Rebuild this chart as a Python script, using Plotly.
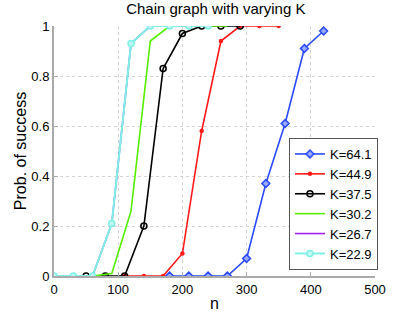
import plotly.graph_objects as go

n_blue = [180, 210, 240, 270, 300, 330, 360, 390, 420]
p_blue = [0, 0, 0, 0, 0.07, 0.37, 0.61, 0.91, 0.98]
n_red = [110, 140, 170, 200, 230, 260, 290, 320, 350]
p_red = [0, 0, 0, 0.09, 0.58, 0.94, 1, 1, 1]
n_black = [50, 80, 110, 140, 170, 200, 230, 260, 290]
p_black = [0, 0, 0, 0.2, 0.83, 0.97, 1, 1, 1]
n_green = [60, 90, 120, 150, 180, 210, 240, 270]
p_green = [0, 0.01, 0.26, 0.94, 1, 1, 1, 1]
n_purple = [0, 30, 60, 90, 120, 150, 180, 210, 240]
p_purple = [0, 0, 0, 0.21, 0.93, 1, 1, 1, 1]
n_cyan = [0, 30, 60, 90, 120, 150, 180, 210, 240]
p_cyan = [0, 0, 0, 0.21, 0.93, 1, 1, 1, 1]
labels = ["K=64.1", "K=44.9", "K=37.5", "K=30.2", "K=26.7", "K=22.9"]

x_ticks = [0, 100, 200, 300, 400, 500]
y_ticks = [0, 0.2, 0.4, 0.6, 0.8, 1]

fig = go.Figure()
fig.add_trace(go.Scatter(x=n_blue, y=p_blue, name=labels[0], mode="lines+markers",
                         line=dict(color="#2a4bff", width=1.6),
                         marker=dict(symbol="diamond", size=6, color="#9aaaff",
                                     line=dict(color="#2a4bff", width=1.5))))
fig.add_trace(go.Scatter(x=n_red, y=p_red, name=labels[1], mode="lines+markers",
                         line=dict(color="#ff1a1a", width=1.6),
                         marker=dict(symbol="circle", size=4.5, color="#ff1a1a")))
fig.add_trace(go.Scatter(x=n_black, y=p_black, name=labels[2], mode="lines+markers",
                         line=dict(color="#000000", width=1.6),
                         marker=dict(symbol="circle-open", size=6,
                                     line=dict(color="#000000", width=1.6))))
fig.add_trace(go.Scatter(x=n_green, y=p_green, name=labels[3], mode="lines",
                         line=dict(color="#55ee00", width=1.6)))
fig.add_trace(go.Scatter(x=n_purple, y=p_purple, name=labels[4], mode="lines",
                         line=dict(color="#a020f0", width=1.6)))
fig.add_trace(go.Scatter(x=n_cyan, y=p_cyan, name=labels[5], mode="lines+markers",
                         line=dict(color="#7ff0e6", width=2),
                         marker=dict(symbol="circle", size=6, color="#c0f7f2",
                                     line=dict(color="#7ff0e6", width=1.5))))

font = "Liberation Sans, Arial, sans-serif"
fig.update_layout(
    width=415, height=312,
    margin=dict(l=54, r=40, t=26, b=36),
    paper_bgcolor="white", plot_bgcolor="white",
    font=dict(family=font, size=13, color="black"),
    title=dict(text="Chain graph with varying K", x=0.52, xanchor="center",
               y=0.99, yanchor="top", font=dict(size=15)),
    showlegend=True,
    legend=dict(x=0.732, y=0.024, xanchor="left", yanchor="bottom",
                bgcolor="white", bordercolor="#555555", borderwidth=1,
                font=dict(size=13), tracegroupgap=0, itemwidth=30),
    xaxis=dict(range=[0, 500], tickvals=x_ticks, ticktext=[str(v) for v in x_ticks],
               showgrid=True, gridcolor="#d4d4d4", griddash="dot", gridwidth=1,
               showline=True, linecolor="#aaaaaa", linewidth=2,
               ticks="inside", ticklen=4, tickcolor="#aaaaaa",
               zeroline=False, title=dict(text="n", standoff=2),
               tickfont=dict(size=13), automargin=False),
    yaxis=dict(range=[0, 1], tickvals=y_ticks, ticktext=["0", "0.2", "0.4", "0.6", "0.8", "1"],
               showgrid=True, gridcolor="#d4d4d4", griddash="dot", gridwidth=1,
               showline=True, linecolor="#aaaaaa", linewidth=2,
               ticks="inside", ticklen=4, tickcolor="#aaaaaa",
               zeroline=False, title=dict(text="Prob. of success", standoff=1),
               tickfont=dict(size=13), automargin=False),
)

fig.write_html("out.html", config={"displayModeBar": False},
               post_script="document.body.style.margin='0';document.body.style.padding='0';")
